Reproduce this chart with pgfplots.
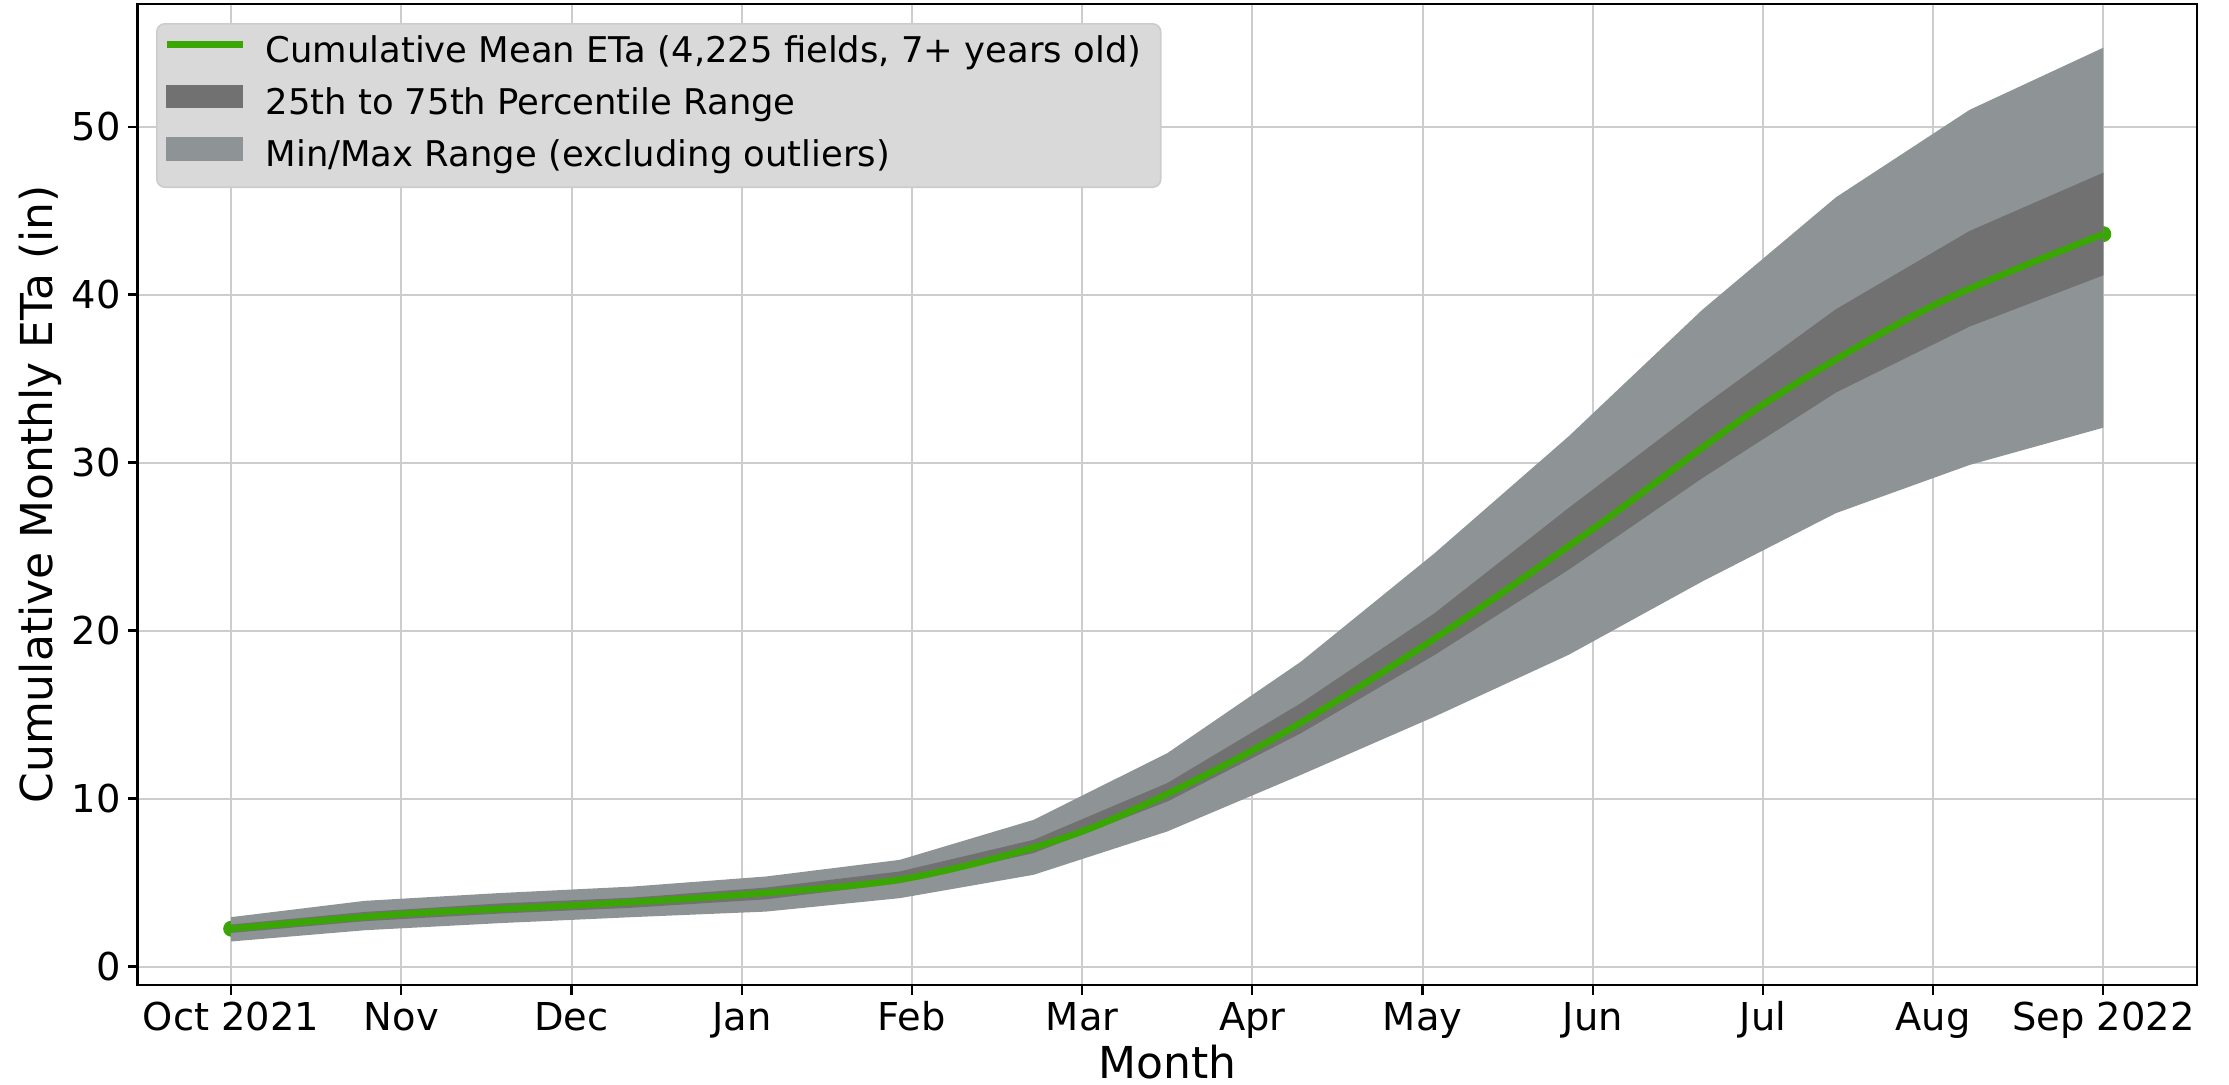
\documentclass[border=0pt]{standalone}
\usepackage{fontspec}
\setmainfont{DejaVu Sans}
\usepackage{pgfplots}
\pgfplotsset{compat=1.18}
\usepackage{pgfplotstable}
\definecolor{etgreen}{RGB}{58,166,3}
\definecolor{darkband}{RGB}{113,113,113}
\definecolor{lightband}{RGB}{142,147,149}
\definecolor{legbg}{RGB}{217,217,217}
\definecolor{legedge}{RGB}{204,204,204}
\definecolor{gridc}{RGB}{205,205,205}

% cumulative mean ETa at each month
\pgfplotstableread{
x mean
0 2.25
1 3.12
2 3.63
3 4.27
4 5.30
5 8.04
6 12.86
7 19.05
8 26.04
9 33.45
10 39.35
11 43.60
}\meantab

% min/max band outline: max forward, then min backward
\pgfplotstableread{
x y
0.0000 2.94
0.7857 3.91
1.5714 4.37
2.3571 4.76
3.1429 5.36
3.9286 6.35
4.7143 8.73
5.5000 12.70
6.2857 18.15
7.0714 24.61
7.8571 31.55
8.6429 39.09
9.4286 45.79
10.2143 51.00
11.0000 54.70
11.0000 32.08
10.2143 29.86
9.4286 26.99
8.6429 22.92
7.8571 18.55
7.0714 14.88
6.2857 11.41
5.5000 8.04
4.7143 5.46
3.9286 4.07
3.1429 3.27
2.3571 2.94
1.5714 2.58
0.7857 2.16
0.0000 1.49
}\minmaxtab

% 25th-75th percentile band outline: p75 forward, then p25 backward
\pgfplotstableread{
x y
0.0000 2.50
0.7857 3.25
1.5714 3.75
2.3571 4.10
3.1429 4.70
3.9286 5.66
4.7143 7.54
5.5000 10.92
6.2857 15.68
7.0714 21.04
7.8571 27.29
8.6429 33.33
9.4286 39.13
10.2143 43.79
11.0000 47.26
11.0000 41.15
10.2143 38.10
9.4286 34.17
8.6429 29.07
7.8571 23.61
7.0714 18.55
6.2857 13.89
5.5000 9.82
4.7143 6.75
3.9286 4.96
3.1429 4.00
2.3571 3.50
1.5714 3.15
0.7857 2.70
0.0000 2.00
}\iqrtab

\begin{document}
\begin{tikzpicture}
\begin{axis}[
  clip marker paths=true,
  scale only axis, width=1029.75bp, height=490.5bp,
  xmin=-0.55, xmax=11.55, ymin=-1.1, ymax=57.3,
  xtick={0,...,11},
  xticklabels={Oct 2021,Nov,Dec,Jan,Feb,Mar,Apr,May,Jun,Jul,Aug,Sep 2022},
  ytick={0,10,20,30,40,50},
  grid=major, major grid style={gridc, line width=1bp},
  axis line style={black, line width=1.1bp},
  tick style={black, line width=1.1bp}, tick align=outside, major tick length=5bp,
  tick pos=left,
  /pgf/number format/assume math mode=true,
  ticklabel style={font=\fontsize{19.2bp}{23bp}\selectfont},
  xticklabel style={anchor=base, yshift=-17.5bp},
  every axis x label/.style={at={(axis description cs:0.5,0)}, anchor=base, yshift=-46.5bp,
    text depth=0pt, inner sep=0pt, font=\fontsize{22bp}{26bp}\selectfont},
  every axis y label/.style={at={(axis description cs:-0.04734,0.5)}, rotate=90, anchor=center,
    font=\fontsize{22bp}{26bp}\selectfont},
  xlabel={Month}, ylabel={Cumulative Monthly ETa (in)},
  legend cell align=left,
  legend style={at={(axis description cs:0.00898,0.9806)}, anchor=north west,
    fill=legbg, draw=legedge, line width=0.8bp, rounded corners=4bp,
    inner xsep=3.2bp, inner ysep=6.25bp,
    font=\fontsize{17.7bp}{21bp}\selectfont,
    nodes={inner sep=0pt, text height=13bp, text depth=4bp},
    row sep=7.2bp, column sep=9.9bp},
]
\addlegendimage{legend image code/.code={\draw[etgreen, line width=3.3bp, sharp corners] (0bp,4.5bp) -- (38bp,4.5bp);}}
\addlegendentry{Cumulative Mean ETa (4,225 fields, 7+ years old)\rule{6.5bp}{0pt}}
\addlegendimage{legend image code/.code={\fill[darkband, sharp corners] (0bp,-1bp) rectangle (38bp,10bp);}}
\addlegendentry{25th to 75th Percentile Range}
\addlegendimage{legend image code/.code={\fill[lightband, sharp corners] (0bp,-1bp) rectangle (38bp,10bp);}}
\addlegendentry{Min/Max Range (excluding outliers)}

\addplot[forget plot, only marks, mark=*, mark size=3.75bp, etgreen] table[x=x,y=mean]{\meantab};
\addplot[forget plot, fill=lightband, draw=none, sharp corners] table[x=x,y=y]{\minmaxtab} -- cycle;
\addplot[forget plot, fill=darkband, draw=none, sharp corners] table[x=x,y=y]{\iqrtab} -- cycle;
\addplot[forget plot, etgreen, line width=3.3bp, smooth, no marks] table[x=x,y=mean]{\meantab};
\end{axis}
\pgfresetboundingbox
\path (current axis.south west) ++(-68.75bp,-50bp) rectangle ++(1114.5bp,542.5bp);
\end{tikzpicture}
\end{document}
